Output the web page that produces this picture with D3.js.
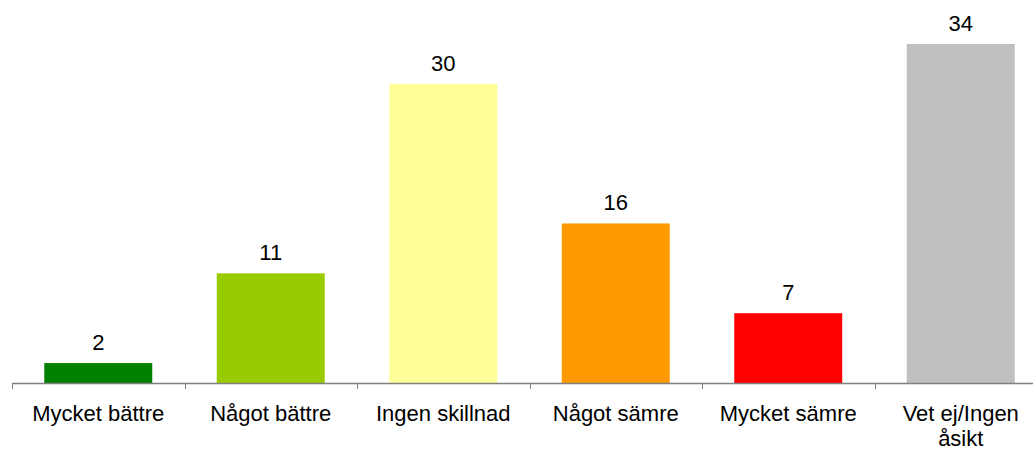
<!DOCTYPE html>
<html>
<head>
<meta charset="utf-8">
<script src="https://cdn.jsdelivr.net/npm/d3@7"></script>
<style>
  body { margin: 0; background: #fff; }
  text { font-family: "Liberation Sans", Arial, sans-serif; fill: #000; }
</style>
</head>
<body>
<svg></svg>
<script>
const categories = ["Mycket bättre", "Något bättre", "Ingen skillnad", "Något sämre", "Mycket sämre", "Vet ej/Ingen åsikt"];
const values = [2, 11, 30, 16, 7, 34];
const colors = ["#008000", "#99cc00", "#ffff99", "#ff9900", "#ff0000", "#c0c0c0"];

const WIDTH = 1033,
  HEIGHT = 449;
const plot = { left: 12, right: 1047, top: 44, bottom: 383 };

const svg = d3.select("svg").attr("width", WIDTH).attr("height", HEIGHT);

const xScale = d3
  .scaleBand()
  .domain(categories)
  .range([plot.left, plot.right])
  .paddingInner(0.374)
  .paddingOuter(0.187);
// band for ticks between categories
const xOuter = d3.scaleBand().domain(categories).range([plot.left, plot.right]);
const yScale = d3.scaleLinear().domain([0, 34]).range([plot.bottom, plot.top]);

// bars
svg
  .append("g")
  .selectAll("rect")
  .data(values)
  .enter()
  .append("rect")
  .attr("x", (d, i) => xScale(categories[i]))
  .attr("width", xScale.bandwidth())
  .attr("y", d => yScale(d))
  .attr("height", d => yScale(0) - yScale(d))
  .attr("fill", (d, i) => colors[i]);

// value labels
svg
  .append("g")
  .selectAll("text")
  .data(values)
  .enter()
  .append("text")
  .attr("x", (d, i) => xScale(categories[i]) + xScale.bandwidth() / 2)
  .attr("y", d => yScale(d) - 13)
  .attr("text-anchor", "middle")
  .style("font-size", "22px")
  .text(d => d);

// x axis line and ticks
const axis = svg.append("g").attr("stroke", "#808080");
axis
  .append("line")
  .attr("x1", plot.left)
  .attr("x2", plot.right)
  .attr("y1", plot.bottom + 0.5)
  .attr("y2", plot.bottom + 0.5)
  .attr("stroke-width", 1.5);
axis
  .selectAll(".tick")
  .data(categories.concat([null]))
  .enter()
  .append("line")
  .attr("x1", d => Math.round(d ? xOuter(d) : plot.right) + 0.5)
  .attr("x2", d => Math.round(d ? xOuter(d) : plot.right) + 0.5)
  .attr("y1", plot.bottom)
  .attr("y2", plot.bottom + 6);

// category labels, wrapped
const labels = svg
  .append("g")
  .selectAll("text")
  .data(categories)
  .enter()
  .append("text")
  .attr("x", d => xOuter(d) + xOuter.bandwidth() / 2)
  .attr("y", 421)
  .attr("text-anchor", "middle")
  .style("font-size", "22px");

labels.each(function(d) {
  const el = d3.select(this);
  const x = el.attr("x");
  const words = d.split(" ");
  let line = [];
  let tspan = el.append("tspan").attr("x", x).attr("dy", 0);
  words.forEach(w => {
    line.push(w);
    tspan.text(line.join(" "));
    if (tspan.node().getComputedTextLength() > 155 && line.length > 1) {
      line.pop();
      tspan.text(line.join(" "));
      line = [w];
      tspan = el.append("tspan").attr("x", x).attr("dy", 25).text(w);
    }
  });
});
</script>
</body>
</html>
